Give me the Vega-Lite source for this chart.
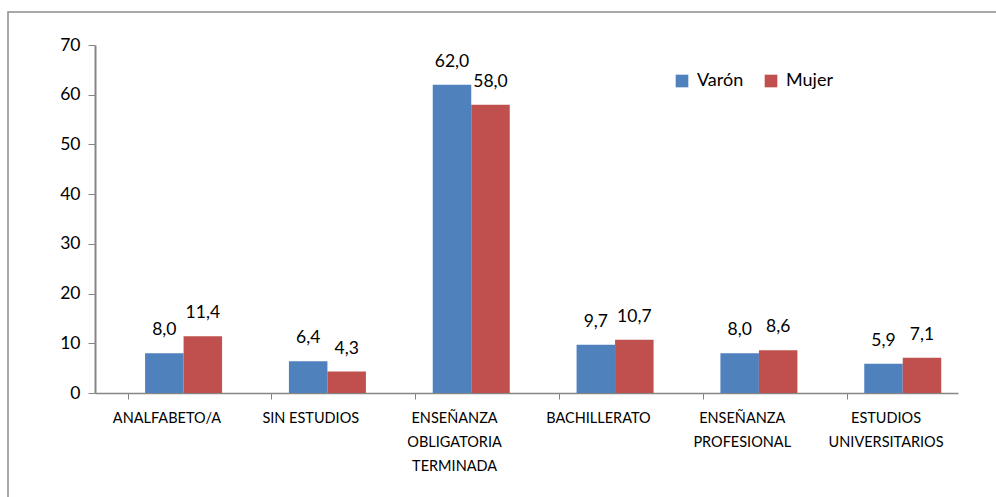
{
  "$schema": "https://vega.github.io/schema/vega-lite/v6.json",
  "width": 1000,
  "height": 500,
  "autosize": {"type": "none"},
  "padding": {"left": 8, "top": 12, "right": 0, "bottom": 0},
  "background": "white",
  "config": {
    "view": {"stroke": "#8c8c8c", "strokeWidth": 1.5},
    "font": "Lato",
    "locale": {"number": {"decimal": ",", "thousands": ".", "grouping": [3], "currency": ["", " €"]}}
  },
  "data": {
    "values": [
      {"nivel": "ANALFABETO/A", "sexo": "Varón", "valor": 8.0},
      {"nivel": "ANALFABETO/A", "sexo": "Mujer", "valor": 11.4},
      {"nivel": "SIN ESTUDIOS", "sexo": "Varón", "valor": 6.4},
      {"nivel": "SIN ESTUDIOS", "sexo": "Mujer", "valor": 4.3},
      {"nivel": "ENSEÑANZA|OBLIGATORIA|TERMINADA", "sexo": "Varón", "valor": 62.0},
      {"nivel": "ENSEÑANZA|OBLIGATORIA|TERMINADA", "sexo": "Mujer", "valor": 58.0},
      {"nivel": "BACHILLERATO", "sexo": "Varón", "valor": 9.7},
      {"nivel": "BACHILLERATO", "sexo": "Mujer", "valor": 10.7},
      {"nivel": "ENSEÑANZA|PROFESIONAL", "sexo": "Varón", "valor": 8.0},
      {"nivel": "ENSEÑANZA|PROFESIONAL", "sexo": "Mujer", "valor": 8.6},
      {"nivel": "ESTUDIOS|UNIVERSITARIOS", "sexo": "Varón", "valor": 5.9},
      {"nivel": "ESTUDIOS|UNIVERSITARIOS", "sexo": "Mujer", "valor": 7.1}
    ]
  },
  "encoding": {
    "x": {
      "field": "nivel",
      "type": "nominal",
      "sort": null,
      "scale": {"range": [87, 950], "paddingInner": 0.46, "paddingOuter": 0.23},
      "axis": {
        "title": null,
        "labelAngle": 0,
        "labelExpr": "split(datum.label, '|')",
        "labelFontSize": 14.5,
        "labelColor": "#000000",
        "labelPadding": 12,
        "labelLineHeight": 24,
        "labelBaseline": "top",
        "bandPosition": 0,
        "tickSize": 6,
        "tickColor": "#868686",
        "domainColor": "#868686",
        "domainWidth": 1.5,
        "offset": -119
      }
    },
    "xOffset": {"field": "sexo", "type": "nominal", "sort": ["Varón", "Mujer"], "scale": {"range": [17, 94]}},
    "y": {
      "field": "valor",
      "type": "quantitative",
      "scale": {"domain": [0, 70], "range": [381, 33], "nice": false},
      "axis": {
        "title": null,
        "values": [0, 10, 20, 30, 40, 50, 60, 70],
        "grid": false,
        "labelFontSize": 17.5,
        "labelColor": "#000000",
        "labelPadding": 8,
        "tickSize": 7,
        "tickColor": "#868686",
        "domainColor": "#868686",
        "domainWidth": 2,
        "offset": -87
      }
    },
    "color": {
      "field": "sexo",
      "type": "nominal",
      "sort": ["Varón", "Mujer"],
      "scale": {"domain": ["Varón", "Mujer"], "range": ["#4F81BD", "#C0504D"]},
      "legend": {
        "title": null,
        "orient": "none",
        "legendX": 665,
        "legendY": 60,
        "direction": "horizontal",
        "symbolType": "square",
        "symbolSize": 160,
        "symbolStrokeWidth": 0,
        "labelFontSize": 18,
        "labelColor": "#000000",
        "labelOffset": 6,
        "columnPadding": 18,
        "padding": 0
      }
    }
  },
  "layer": [
    {"mark": {"type": "bar", "stroke": null}},
    {
      "mark": {"type": "text", "baseline": "bottom", "dy": -14, "fontSize": 17.5, "color": "#000000"},
      "encoding": {
        "text": {"field": "valor", "type": "quantitative", "format": ".1f"},
        "color": {"value": "#000000"}
      }
    }
  ]
}
